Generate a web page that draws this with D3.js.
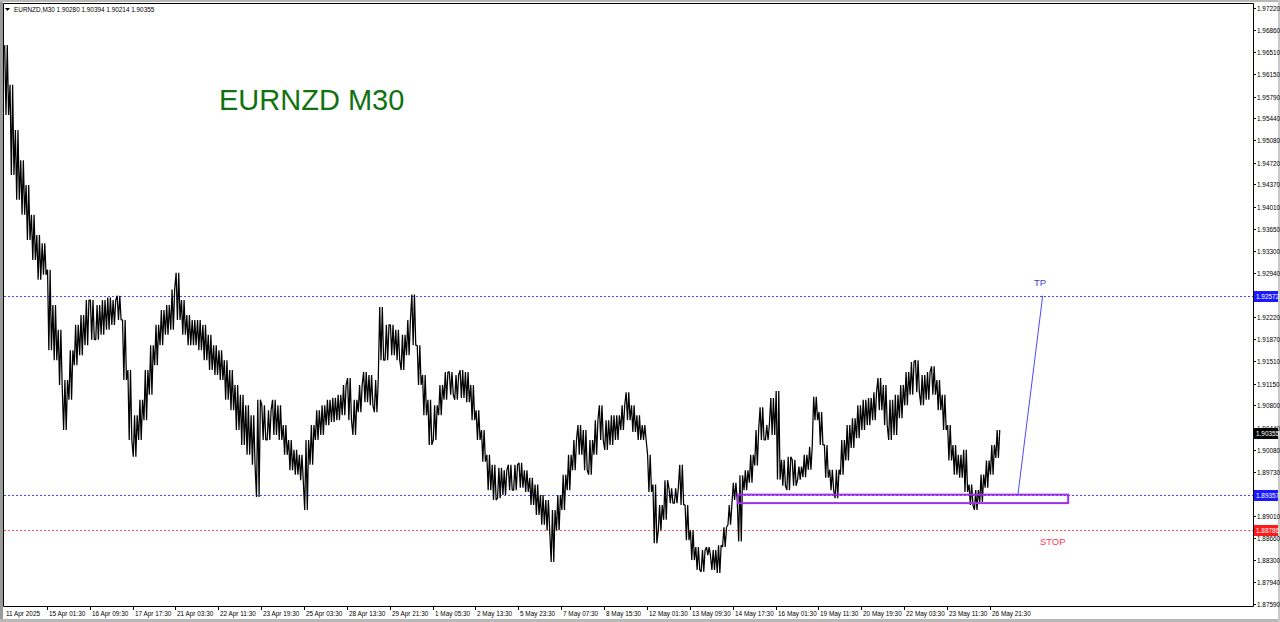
<!DOCTYPE html>
<html><head><meta charset="utf-8">
<script src="https://cdn.jsdelivr.net/npm/d3@7"></script>
<style>body{margin:0;background:#fff;overflow:hidden}svg{display:block}</style>
</head><body><svg id="c" width="1280" height="622"></svg>
<script>
// ---- data ----
const barsPerColumn = 8; // each column aggregates 8 M30 bars
const highs = [1.9662,1.9598,1.9525,1.9476,1.9436,1.9388,1.9355,1.9342,1.9299,1.9242,
1.9202,1.9121,1.9169,1.9210,1.9226,1.9250,1.9250,1.9242,1.9250,1.9254,
1.9250,1.9257,1.9218,1.9137,1.9064,1.9089,1.9137,1.9177,1.9210,1.9234,
1.9242,1.9267,1.9294,1.9250,1.9226,1.9218,1.9218,1.9210,1.9194,1.9177,
1.9169,1.9153,1.9137,1.9113,1.9097,1.9080,1.9064,1.9089,1.9080,1.9072,
1.9089,1.9080,1.9048,1.9024,1.9008,1.9000,1.9024,1.9048,1.9072,1.9080,
1.9089,1.9092,1.9097,1.9113,1.9124,1.9089,1.9113,1.9134,1.9129,1.9121,
1.9239,1.9210,1.9210,1.9202,1.9194,1.9218,1.9259,1.9177,1.9129,1.9089,
1.9080,1.9113,1.9134,1.9134,1.9129,1.9137,1.9134,1.9113,1.9072,1.9040,
1.9000,1.8984,1.8979,1.8975,1.8984,1.8984,1.8987,1.8975,1.8963,1.8952,
1.8935,1.8927,1.8911,1.8935,1.8968,1.9000,1.9024,1.9048,1.9040,1.9024,
1.9056,1.9080,1.9056,1.9064,1.9064,1.9080,1.9101,1.9080,1.9064,1.9048,
1.9000,1.8952,1.8919,1.8959,1.8946,1.8946,1.8984,1.8919,1.8878,1.8851,
1.8846,1.8851,1.8846,1.8854,1.8883,1.8919,1.8955,1.8967,1.8975,1.9000,
1.9040,1.9077,1.9048,1.9092,1.9103,1.8992,1.8997,1.8992,1.8981,1.9000,
1.9013,1.9094,1.9069,1.9016,1.8976,1.8976,1.9024,1.9048,1.9059,1.9080,
1.9089,1.9092,1.9101,1.9124,1.9113,1.9089,1.9097,1.9113,1.9134,1.9150,
1.9153,1.9129,1.9134,1.9143,1.9121,1.9097,1.9048,1.9016,1.9000,1.9008,
1.8952,1.8943,1.8968,1.8991,1.9016,1.9040];
const lows = [1.9549,1.9452,1.9412,1.9388,1.9347,1.9315,1.9283,1.9291,1.9169,1.9153,
1.9113,1.9040,1.9089,1.9145,1.9161,1.9177,1.9186,1.9186,1.9194,1.9202,
1.9210,1.9218,1.9121,1.9024,1.8997,1.9024,1.9056,1.9097,1.9145,1.9177,
1.9194,1.9202,1.9218,1.9194,1.9177,1.9177,1.9169,1.9153,1.9137,1.9129,
1.9121,1.9089,1.9072,1.9040,1.9016,1.9000,1.8984,1.8932,1.9024,1.9024,
1.9032,1.9024,1.9000,1.8975,1.8968,1.8959,1.8911,1.8984,1.9024,1.9032,
1.9048,1.9053,1.9056,1.9064,1.9056,1.9032,1.9069,1.9085,1.9080,1.9069,
1.9153,1.9153,1.9161,1.9153,1.9137,1.9161,1.9177,1.9113,1.9064,1.9016,
1.9024,1.9064,1.9089,1.9097,1.9089,1.9092,1.9085,1.9056,1.9024,1.8989,
1.8943,1.8927,1.8930,1.8935,1.8943,1.8943,1.8947,1.8940,1.8919,1.8903,
1.8887,1.8878,1.8827,1.8878,1.8911,1.8943,1.8975,1.9000,1.8975,1.8968,
1.9000,1.9024,1.9008,1.9016,1.9024,1.9040,1.9056,1.9037,1.9024,1.9024,
1.8940,1.8857,1.8878,1.8895,1.8922,1.8922,1.8919,1.8862,1.8830,1.8814,
1.8811,1.8838,1.8814,1.8809,1.8851,1.8887,1.8927,1.8860,1.8943,1.8955,
1.8983,1.9024,1.9024,1.9032,1.8960,1.8950,1.8943,1.8950,1.8960,1.8964,
1.8976,1.9056,1.9016,1.8963,1.8943,1.8930,1.8968,1.8991,1.9011,1.9027,
1.9040,1.9048,1.9056,1.9072,1.9048,1.9024,1.9032,1.9059,1.9080,1.9097,
1.9101,1.9080,1.9089,1.9097,1.9072,1.9040,1.8991,1.8968,1.8963,1.8940,
1.8919,1.8911,1.8924,1.8947,1.8968,1.8995];
const lastClose = 1.90355;
const headerText = "EURNZD,M30 1.90280 1.90394 1.90214 1.90355";
const titleText = "EURNZD M30";
const timeLabels = ["11 Apr 2025","15 Apr 01:30","16 Apr 09:30","17 Apr 17:30","21 Apr 03:30",
"22 Apr 11:30","23 Apr 19:30","25 Apr 03:30","28 Apr 13:30","29 Apr 21:30","1 May 05:30",
"2 May 13:30","5 May 23:30","7 May 07:30","8 May 15:30","12 May 01:30","13 May 09:30",
"14 May 17:30","16 May 01:30","19 May 11:30","20 May 19:30","22 May 03:30","23 May 11:30","26 May 21:30"];
const barsPerTimeLabel = 64;
const priceTicks = [1.97220,1.96860,1.96510,1.96150,1.95790,1.95440,1.95080,1.94720,1.94370,
1.94010,1.93650,1.93300,1.92940,1.92220,1.91870,1.91510,1.91150,1.90800,1.90440,1.90080,
1.89730,1.89010,1.88660,1.88300,1.87940,1.87590];
const tpLevel = 1.92572;
const entryLevel = 1.89357;
const stopLevel = 1.88786;
const zoneBars = [1096, 1589];
const zonePrices = [1.89357, 1.89220];
const trendBars = [1514, 1551];
const trendPrices = [1.89357, 1.92572];
const tpLabelBar = 1547, stopLabelBar = 1566;

// ---- drawing ----
const svg = d3.select("#c");
const L = 4, R = 1253, T = 4, B = 606;
const x = d3.scaleLinear().domain([0, 1865]).range([L, R]);
const y = d3.scaleLinear().domain([1.87590, 1.97220]).range([604, 8]);
const font2 = "'Liberation Sans', Arial, sans-serif";

svg.append("rect").attr("width",1280).attr("height",622).attr("fill","#fff");
// window frame
svg.append("rect").attr("x",0).attr("y",0).attr("width",3).attr("height",622).attr("fill","#9a9a9a");
svg.append("rect").attr("x",0).attr("y",0).attr("width",1280).attr("height",2).attr("fill","#b8b8b8");
svg.append("rect").attr("x",0).attr("y",619).attr("width",1280).attr("height",3).attr("fill","#b8b8b8");
svg.append("rect").attr("x",1278).attr("y",0).attr("width",2).attr("height",622).attr("fill","#c8c8c8");
// plot border
svg.append("path").attr("d",`M${L-0.5},${T-0.5}H${R+0.5}V${B+0.5}H${L-0.5}Z`)
  .attr("fill","none").attr("stroke","#000").attr("stroke-width",1);

// horizontal levels
function hline(p, col){
  const yy = Math.round(y(p))+0.5;
  svg.append("line").attr("x1",L).attr("x2",R).attr("y1",yy).attr("y2",yy)
    .attr("stroke",col).attr("stroke-width",1).attr("stroke-dasharray","2,2");
}
hline(tpLevel,"#4646ff");
hline(entryLevel,"#4646ff");
hline(stopLevel,"#ff5a5a");

// price series: dense zigzag through each column's low/high
const pts = [];
const offs = [-2.0,-0.7,0.6,1.9];
highs.forEach((h,i)=>{
  const cx = x(i*barsPerColumn + barsPerColumn/2);
  const mid = (h+lows[i])/2;
  const nmid = i < highs.length-1 ? (highs[i+1]+lows[i+1])/2 : lastClose;
  const up = nmid > mid;
  const a = up ? lows[i] : h, b = up ? h : lows[i];
  offs.forEach((o,j)=>pts.push([cx+o, y(j%2===0 ? a : b)]));
});
pts.push([x(highs.length*barsPerColumn)-1, y(lastClose)]);
svg.append("path").attr("d", d3.line()(pts)).attr("fill","none")
  .attr("stroke","#000").attr("stroke-width",1.25).attr("stroke-linejoin","bevel");

// zone rectangle
svg.append("rect").attr("x",x(zoneBars[0])).attr("y",y(zonePrices[0]))
  .attr("width",x(zoneBars[1])-x(zoneBars[0])).attr("height",y(zonePrices[1])-y(zonePrices[0]))
  .attr("fill","none").attr("stroke","#a030e8").attr("stroke-width",2);

// trend line
svg.append("line").attr("x1",x(trendBars[0])).attr("y1",y(trendPrices[0]))
  .attr("x2",x(trendBars[1])).attr("y2",y(trendPrices[1]))
  .attr("stroke","#4a4aff").attr("stroke-width",1);

// TP / STOP labels
svg.append("text").attr("x",x(tpLabelBar)).attr("y",y(tpLevel)-10).attr("text-anchor","middle")
  .attr("font-family",font2).attr("font-size",9.5).attr("fill","#3c3cd8").text("TP");
svg.append("text").attr("x",x(stopLabelBar)).attr("y",y(stopLevel)+15).attr("text-anchor","middle")
  .attr("font-family",font2).attr("font-size",9.5).attr("fill","#ff3a5a").text("STOP");

// title
svg.append("text").attr("x",219).attr("y",110).attr("font-family",font2).attr("font-size",29)
  .attr("fill","#117211").text(titleText);

// header
svg.append("path").attr("d","M5,8H10L7.5,11Z").attr("fill","#000");
svg.append("text").attr("x",14).attr("y",12).attr("font-family",font2).attr("font-size",6.4)
  .attr("fill","#000").text(headerText);

// right axis
const ra = svg.append("g");
priceTicks.forEach(p=>{
  const yy = Math.round(y(p))+0.5;
  ra.append("line").attr("x1",R).attr("x2",R+3).attr("y1",yy).attr("y2",yy).attr("stroke","#000");
  ra.append("text").attr("x",R+4).attr("y",yy+2.3).attr("font-family",font2).attr("font-size",6.4)
    .attr("fill","#000").text(p.toFixed(5));
});
function priceBox(p, col){
  const yy = Math.round(y(p));
  ra.append("rect").attr("x",R+1).attr("y",yy-5).attr("width",1278-R-1).attr("height",11).attr("fill",col);
  ra.append("text").attr("x",R+3).attr("y",yy+2.5).attr("font-family",font2).attr("font-size",6.4)
    .attr("fill","#fff").text(p.toFixed(5));
}
priceBox(tpLevel,"#1a1aff");
priceBox(entryLevel,"#1a1aff");
priceBox(stopLevel,"#ff1a1a");
priceBox(lastClose,"#000");

// bottom axis
timeLabels.forEach((t,k)=>{
  const xx = Math.round(x(k*barsPerTimeLabel))+0.5;
  if(k>0) svg.append("line").attr("x1",xx).attr("x2",xx).attr("y1",B).attr("y2",B+4).attr("stroke","#000");
  svg.append("text").attr("x",xx+1.5).attr("y",B+9.5).attr("font-family",font2).attr("font-size",6.4)
    .attr("fill","#000").text(t);
});
</script></body></html>
